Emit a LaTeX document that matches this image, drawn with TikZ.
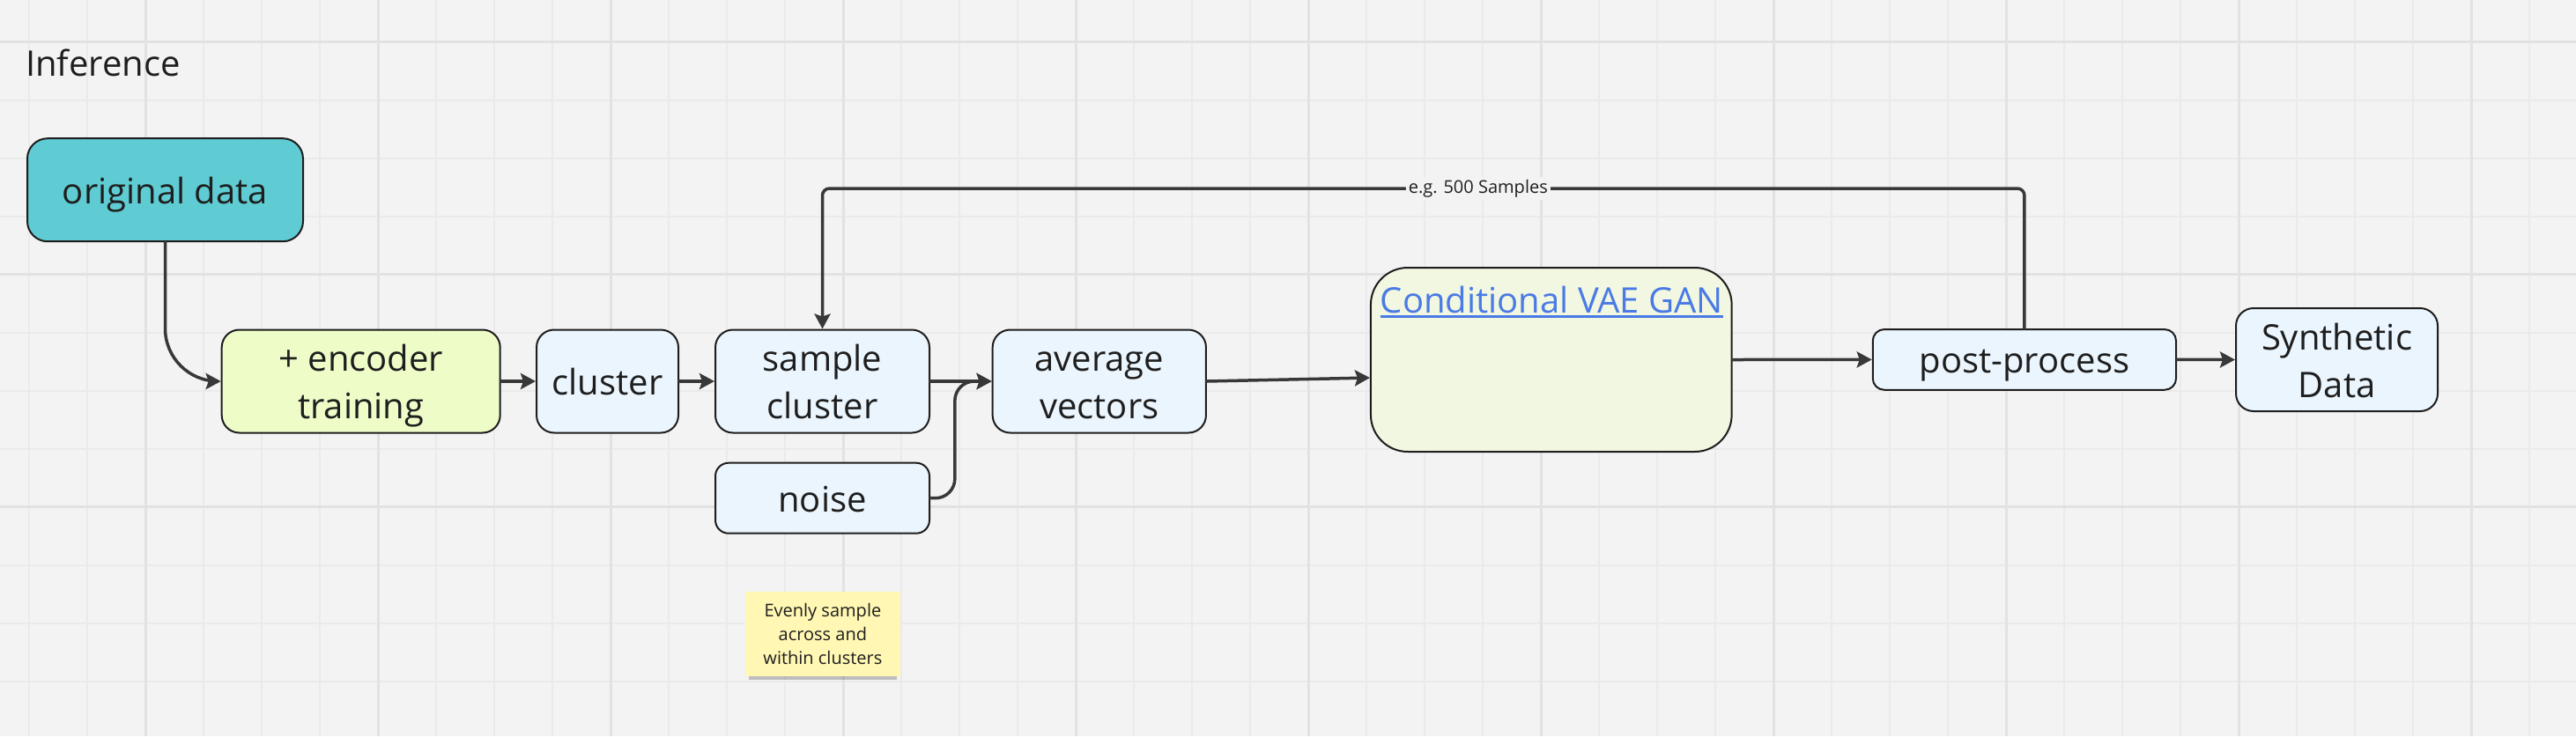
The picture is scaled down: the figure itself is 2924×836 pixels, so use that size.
\documentclass[tikz,border=0pt]{standalone}
\usepackage{fontspec}
\setmainfont{Open Sans}
\usetikzlibrary{arrows.meta,shadows,calc}
\definecolor{bgc}{HTML}{F3F3F3}
\definecolor{gminor}{HTML}{EAEAEA}
\definecolor{gmajor}{HTML}{E2E2E2}
\definecolor{ink}{HTML}{1E1E1E}
\definecolor{connc}{HTML}{383838}
\definecolor{tealc}{HTML}{5FCBD3}
\definecolor{limec}{HTML}{EEFDC8}
\definecolor{lblue}{HTML}{EBF5FD}
\definecolor{cvgc}{HTML}{F1F7E0}
\definecolor{linkc}{HTML}{4A7AE6}
\definecolor{notec}{HTML}{FFF7B3}
\newcommand\bigtxt{\fontsize{40}{54}\selectfont}
\newcommand\smalltxt{\fontsize{20}{26.7}\selectfont}
\newcommand\bst{\rule[-11.5pt]{0pt}{54pt}}
\newcommand\sst{\rule[-5.7pt]{0pt}{26.7pt}}
\begin{document}
\begin{tikzpicture}[x=1pt,y=-1pt,
  box/.style={draw=ink, line width=2pt, rounded corners=20pt, align=center,
    inner sep=0pt, font=\bigtxt, text=ink},
  bluebox/.style={box, fill=lblue},
  conn/.style={draw=connc, line width=3.5pt, line cap=round,
    -{Stealth[length=17pt,width=18pt,inset=3pt]}},
  lbl/.style={fill=bgc, inner sep=3pt, font=\smalltxt, text=ink}]
\useasboundingbox (0,0) rectangle (2924,836);
\fill[bgc] (0,0) rectangle (2924,836);
% grid
\foreach \k in {0,...,43} \draw[gminor, line width=2pt] ({33.3+66*\k},0) -- ({33.3+66*\k},836);
\foreach \k in {0,...,11} \draw[gminor, line width=2pt] (0,{47.7+66*\k}) -- (2924,{47.7+66*\k});
\foreach \k in {2,6,...,42} \draw[gmajor, line width=3pt] ({33.3+66*\k},0) -- ({33.3+66*\k},836);
\foreach \k in {0,4,8} \draw[gmajor, line width=3pt] (0,{47.7+66*\k}) -- (2924,{47.7+66*\k});

% title
\node[anchor=base west, inner sep=0pt, font=\bigtxt, text=ink] (title) at (29,86.7) {Inference};

% nodes
\node[box, fill=tealc, minimum width=313pt, minimum height=117pt, rounded corners=23pt] (od) at (187.5,215.7) {\bst original data};
\node[box, fill=limec, minimum width=316pt, minimum height=117pt] (enc) at (409.7,433) {\bst + encoder\\\bst training};
\node[bluebox, minimum width=161pt, minimum height=117pt] (cl) at (689.5,433) {\bst cluster};
\node[bluebox, minimum width=243pt, minimum height=117pt] (sc) at (933.5,433) {\bst sample\\\bst cluster};
\node[bluebox, minimum width=243pt, minimum height=80pt, rounded corners=15pt] (noise) at (933.5,565.7) {\bst noise};
\node[bluebox, minimum width=242.3pt, minimum height=117pt] (av) at (1247.8,433) {\bst average\\\bst vectors};
\node[box, fill=cvgc, minimum width=409.7pt, minimum height=209pt, rounded corners=42pt] (cvg) at (1760.8,408.5) {};
\node[anchor=base west, inner sep=0pt, font=\bigtxt, text=linkc] (cvgt) at (1566.6,355) {Conditional VAE GAN};
\draw[linkc, line width=3pt] ([yshift=-4.5pt]cvgt.base west) -- ([yshift=-4.5pt]cvgt.base east);
\node[bluebox, minimum width=344.3pt, minimum height=68.7pt, rounded corners=13pt] (pp) at (2297.9,408.4) {\bst post-process};
\node[bluebox, minimum width=229pt, minimum height=117pt] (sd) at (2652.5,408.5) {\bst Synthetic\\\bst Data};

% sticky note
\node[fill=notec, minimum width=176.3pt, minimum height=96pt, inner sep=0pt, align=center,
  font=\smalltxt, text=ink,
  drop shadow={shadow xshift=0pt, shadow yshift=-7pt, shadow scale=0.95, opacity=0.22, fill=black}]
  (note) at (933.9,719.7) {\sst Evenly sample\\\sst across and\\\sst within clusters};

% connectors
\draw[conn, rounded corners=60pt] (od.south) |- (enc.west);
\draw[conn] (enc.east) -- (cl.west);
\draw[conn] (cl.east) -- (sc.west);
\draw[conn] (sc.east) -- (av.west);
\coordinate (nb) at ($(noise.east)!0.4!(av.west)$);
\draw[conn, rounded corners=22pt] (noise.east) -| (nb |- av.west) -- (av.west);
\draw[conn] (av.east) -- ([yshift=-20.5pt]cvg.west);
\draw[conn] (cvg.east) -- (pp.west);
\draw[conn] (pp.east) -- (sd.west);
\coordinate (top) at (0,214);
\draw[conn, rounded corners=8pt] (pp.north) -- (pp.north |- top)
  -- node[lbl, pos=0.4545] (fbl) {e.g. 500 Samples} (sc.north |- top) -- (sc.north);
\end{tikzpicture}
\end{document}
